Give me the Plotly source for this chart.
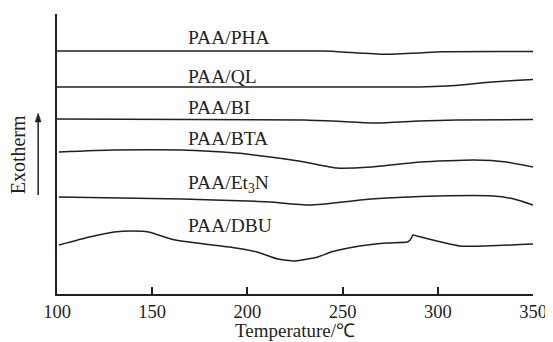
import plotly.graph_objects as go

# Curve data (temperature in °C, signal in arbitrary units)
pha_t = [100, 240, 255, 273, 290, 302, 350]
pha_y = [243, 243, 241.5, 239.7, 241, 242.3, 242.5]

ql_t = [100, 200, 290, 305, 315, 325, 340, 350]
ql_y = [207, 207, 207, 208, 209.5, 211.5, 213.5, 214.5]

bi_t = [100, 230, 250, 268, 290, 310, 350]
bi_y = [175, 174, 172.5, 171, 173, 174, 174.5]

bta_t = [101, 130, 165, 194, 212, 230, 247, 265, 291, 319, 336, 350]
bta_y = [142, 144, 144, 141, 137, 132, 126, 127, 132, 134, 132, 127]

et3n_t = [101, 166, 200, 212, 233, 265, 300, 329, 340, 350]
et3n_y = [97, 95, 93, 92, 89, 95, 98, 98, 95, 89]

dbu_t = [101, 117, 130, 140, 148, 162, 194, 205, 216, 225, 237, 244, 256, 273, 284, 285.5, 287, 289, 311.5, 350]
dbu_y = [49, 57, 62, 63, 62, 54, 46, 42, 35, 33, 37, 42, 47, 51, 52, 54, 59, 58, 48, 50]

labels = ["PAA/PHA", "PAA/QL", "PAA/BI", "PAA/BTA", "PAA/Et<sub>3</sub>N", "PAA/DBU"]
label_y = [257, 218, 187, 156, 110, 69]
label_t = 168

x_ticks = [100, 150, 200, 250, 300, 350]

INK = "#231f20"
FONT = "Liberation Serif"

fig = go.Figure()
for t, y in [(pha_t, pha_y), (ql_t, ql_y), (bi_t, bi_y), (bta_t, bta_y), (et3n_t, et3n_y), (dbu_t, dbu_y)]:
    fig.add_trace(go.Scatter(x=t, y=y, mode="lines",
                             line=dict(color=INK, width=1.5, shape="spline", smoothing=0.5),
                             showlegend=False, hoverinfo="skip"))

for lab, ly in zip(labels, label_y):
    fig.add_annotation(x=label_t, y=ly, text=lab, showarrow=False, xanchor="left", yanchor="middle",
                       font=dict(family=FONT, size=19.5, color=INK))

# y-axis title and arrow (paper coordinates; plot area is 480 x 280 px)
def px(xp):
    return (xp - 57) / 480.0

def py(yp):
    return (294 - yp) / 280.0

fig.add_annotation(xref="paper", yref="paper", x=px(18), y=py(155), text="Exotherm", textangle=-90,
                   xanchor="center", yanchor="middle",
                   showarrow=False, font=dict(family=FONT, size=20, color=INK))
fig.add_shape(type="line", xref="paper", yref="paper", x0=px(38), x1=px(38), y0=py(195), y1=py(120),
              line=dict(color=INK, width=1.5))
fig.add_shape(type="path", xref="paper", yref="paper",
              path=f"M {px(38)} {py(113)} L {px(35)} {py(122)} L {px(41)} {py(122)} Z",
              fillcolor=INK, line=dict(color=INK, width=0.5))
# x-axis title
fig.add_annotation(xref="paper", yref="paper", x=px(297), y=py(330), text="Temperature/℃", showarrow=False,
                   xanchor="center", yanchor="middle", font=dict(family=FONT, size=19, color=INK))

fig.update_xaxes(range=[100, 350], tickvals=x_ticks, ticktext=[str(v) for v in x_ticks],
                 showline=True, linecolor=INK, linewidth=1.5, ticks="inside", ticklen=7,
                 tickwidth=1.5, tickcolor=INK, showgrid=False, zeroline=False,
                 tickfont=dict(family=FONT, size=18.5, color=INK))
fig.update_yaxes(range=[0, 280], showline=True, linecolor=INK, linewidth=1.5, showticklabels=False,
                 ticks="", showgrid=False, zeroline=False)

fig.update_layout(width=545, height=334, margin=dict(l=49, r=16, t=6, b=48),
                  paper_bgcolor="white", plot_bgcolor="white")

fig.write_html("out.html")
